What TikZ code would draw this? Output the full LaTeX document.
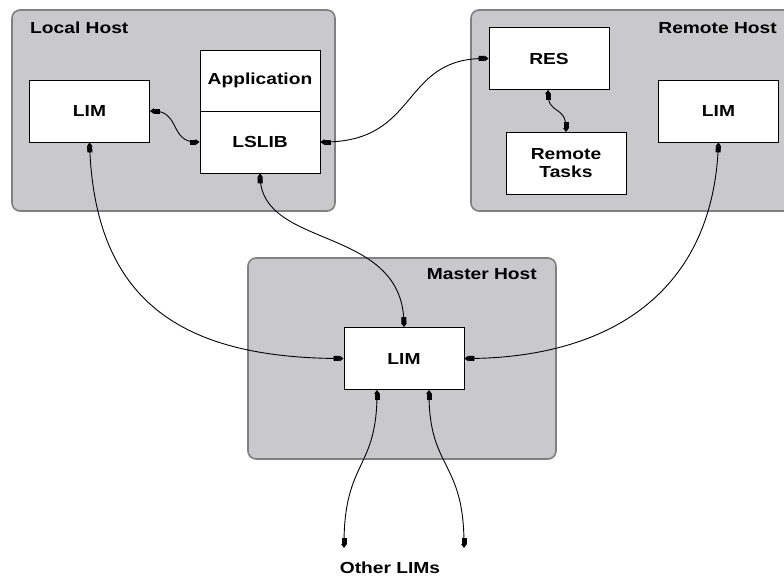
\documentclass[tikz,border=0pt]{standalone}
\usepackage{fontspec}
\setmainfont[FakeStretch=1.2]{Liberation Sans}
\usetikzlibrary{arrows.meta}
\definecolor{hostfill}{RGB}{201,201,205}
\definecolor{hostedge}{RGB}{128,128,128}
\tikzset{
  host/.style={draw=hostedge, fill=hostfill, line width=1.6pt, rounded corners=8pt},
  proc/.style={draw=black, fill=white, line width=0.8pt, minimum width=120pt,
               minimum height=62pt, inner sep=0pt, font=\bfseries\fontsize{16}{19}\selectfont, align=center},
  hostlabel/.style={font=\bfseries\fontsize{16}{19}\selectfont, inner sep=0pt},
  blockhead/.tip={Rectangle[length=6pt,width=5pt] Triangle[length=4pt,width=5.5pt]},
  link/.style={line width=0.9pt, {blockhead}-{blockhead}},
}
\begin{document}
\begin{tikzpicture}[x=1pt,y=-1pt]
\useasboundingbox (0,0) rectangle (784,576);
\clip (0,0) rectangle (784,576);

% host areas
\draw[host] (12,10) rectangle (335,211);
\draw[host] (471,10) rectangle (800,211);
\draw[host] (248,258) rectangle (556,459);

\node[hostlabel, anchor=west] (lhl) at (30,28) {Local Host};
\node[hostlabel, anchor=east] (rhl) at (777,28) {Remote Host};
\node[hostlabel, anchor=east] (mhl) at (537,274) {Master Host};

% processes
\node[proc] (llim) at (89.5,111) {LIM};
\node[proc, minimum height=61pt] (app) at (260,80.5) {Application};
\node[proc] (lslib) at (260,142) {LSLIB};
\node[proc] (res) at (549,58.5) {RES};
\node[proc] (rtask) at (566,163.5) {Remote\\[-1pt]Tasks};
\node[proc] (rlim) at (718.5,111) {LIM};
\node[proc] (mlim) at (404,358.5) {LIM};

\coordinate (o1) at (344,548);
\coordinate (o2) at (464,548);
\node[hostlabel] (other) at (390,568) {Other LIMs};

% connectors
\draw[link] (llim.east) .. controls (180,111) and (170,142) .. (lslib.west);
\draw[link] (lslib.east) .. controls (420,142) and (400,58) .. (res.west);
\draw[link] (res.south -| 548,0) .. controls (548,115) and (566,105) .. (rtask.north);
\draw[link] (llim.south) .. controls (95,300) and (180,358) .. (mlim.west);
\draw[link] (lslib.south) .. controls (262,250) and (403,225) .. (mlim.north);
\draw[link] (rlim.south) .. controls (712,300) and (600,358) .. (mlim.east);
\draw[link] (mlim.south -| 377,0) .. controls (377,470) and (344,460) .. (o1);
\draw[link] (mlim.south -| 429,0) .. controls (429,470) and (464,460) .. (o2);
\end{tikzpicture}
\end{document}
